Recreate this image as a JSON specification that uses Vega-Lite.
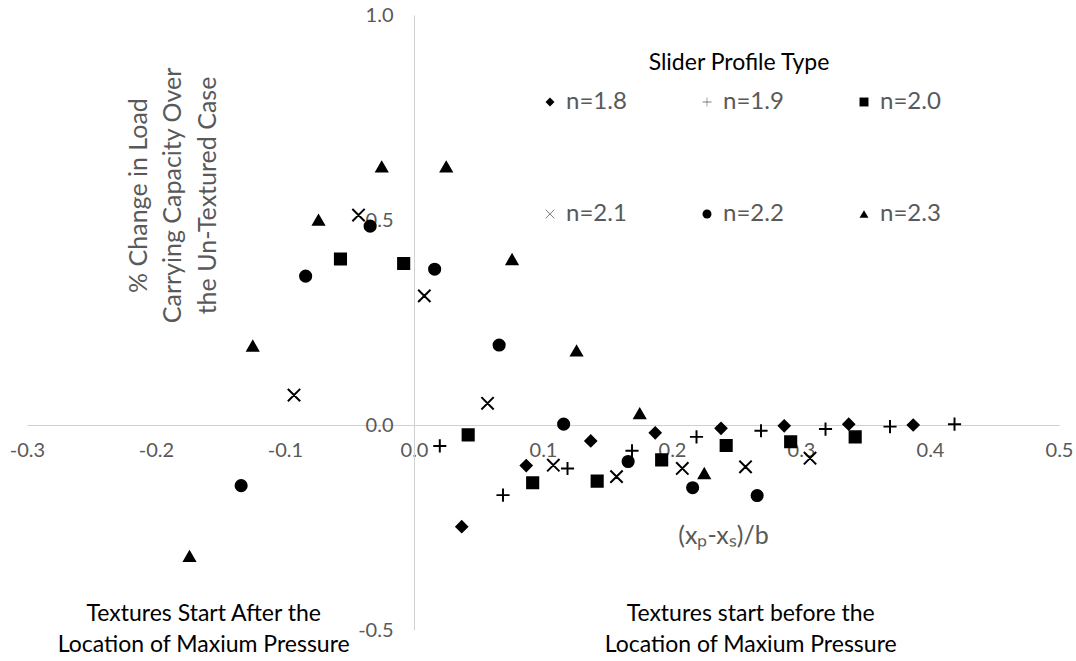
{
  "$schema": "https://vega.github.io/schema/vega-lite/v6.json",
  "width": 1032,
  "height": 615,
  "autosize": {"type": "none"},
  "padding": {"left": 27, "top": 15, "right": 17, "bottom": 31},
  "background": "white",
  "config": {
    "view": {"stroke": null},
    "font": "Lato"
  },
  "datasets": {
    "points": [
      {"series": "n=1.8", "x": 0.037, "y": -0.248},
      {"series": "n=1.8", "x": 0.087, "y": -0.099},
      {"series": "n=1.8", "x": 0.137, "y": -0.039},
      {"series": "n=1.8", "x": 0.187, "y": -0.019},
      {"series": "n=1.8", "x": 0.238, "y": -0.008},
      {"series": "n=1.8", "x": 0.287, "y": -0.002},
      {"series": "n=1.8", "x": 0.337, "y": 0.002},
      {"series": "n=1.8", "x": 0.387, "y": 0.0},
      {"series": "n=1.9", "x": 0.020, "y": -0.051},
      {"series": "n=1.9", "x": 0.069, "y": -0.171},
      {"series": "n=1.9", "x": 0.119, "y": -0.106},
      {"series": "n=1.9", "x": 0.169, "y": -0.063},
      {"series": "n=1.9", "x": 0.219, "y": -0.029},
      {"series": "n=1.9", "x": 0.269, "y": -0.014},
      {"series": "n=1.9", "x": 0.319, "y": -0.010},
      {"series": "n=1.9", "x": 0.369, "y": -0.004},
      {"series": "n=1.9", "x": 0.419, "y": 0.002},
      {"series": "n=2.0", "x": -0.057, "y": 0.405},
      {"series": "n=2.0", "x": -0.008, "y": 0.394},
      {"series": "n=2.0", "x": 0.042, "y": -0.024},
      {"series": "n=2.0", "x": 0.092, "y": -0.141},
      {"series": "n=2.0", "x": 0.142, "y": -0.137},
      {"series": "n=2.0", "x": 0.192, "y": -0.085},
      {"series": "n=2.0", "x": 0.242, "y": -0.050},
      {"series": "n=2.0", "x": 0.292, "y": -0.041},
      {"series": "n=2.0", "x": 0.342, "y": -0.029},
      {"series": "n=2.1", "x": -0.093, "y": 0.073},
      {"series": "n=2.1", "x": -0.043, "y": 0.512},
      {"series": "n=2.1", "x": 0.008, "y": 0.315},
      {"series": "n=2.1", "x": 0.057, "y": 0.053},
      {"series": "n=2.1", "x": 0.108, "y": -0.098},
      {"series": "n=2.1", "x": 0.157, "y": -0.126},
      {"series": "n=2.1", "x": 0.208, "y": -0.106},
      {"series": "n=2.1", "x": 0.257, "y": -0.102},
      {"series": "n=2.1", "x": 0.307, "y": -0.081},
      {"series": "n=2.2", "x": -0.134, "y": -0.148},
      {"series": "n=2.2", "x": -0.084, "y": 0.363},
      {"series": "n=2.2", "x": -0.034, "y": 0.485},
      {"series": "n=2.2", "x": 0.016, "y": 0.380},
      {"series": "n=2.2", "x": 0.066, "y": 0.195},
      {"series": "n=2.2", "x": 0.116, "y": 0.002},
      {"series": "n=2.2", "x": 0.166, "y": -0.089},
      {"series": "n=2.2", "x": 0.216, "y": -0.153},
      {"series": "n=2.2", "x": 0.266, "y": -0.172},
      {"series": "n=2.3", "x": -0.174, "y": -0.320},
      {"series": "n=2.3", "x": -0.125, "y": 0.193},
      {"series": "n=2.3", "x": -0.074, "y": 0.500},
      {"series": "n=2.3", "x": -0.025, "y": 0.630},
      {"series": "n=2.3", "x": 0.025, "y": 0.630},
      {"series": "n=2.3", "x": 0.076, "y": 0.404},
      {"series": "n=2.3", "x": 0.126, "y": 0.181},
      {"series": "n=2.3", "x": 0.175, "y": 0.028},
      {"series": "n=2.3", "x": 0.225, "y": -0.118}
    ],
    "notes": [
      {"x": -0.163, "y": -0.461, "label": ["Textures Start After the", "Location of Maxium Pressure"]},
      {"x": 0.261, "y": -0.461, "label": ["Textures start before the", "Location of Maxium Pressure"]}
    ]
  },
  "layer": [
    {
      "data": {"name": "points"},
      "mark": {"type": "point", "filled": true, "fill": "black", "stroke": "black", "strokeWidth": 1.5, "size": 135, "opacity": 1},
      "encoding": {
        "x": {
          "field": "x", "type": "quantitative",
          "scale": {"domain": [-0.3, 0.5], "nice": false, "zero": false},
          "axis": {
            "title": "(xₚ-xₛ)/b",
            "offset": -205,
            "values": [-0.3, -0.2, -0.1, 0, 0.1, 0.2, 0.3, 0.4, 0.5],
            "format": ".1f",
            "labelExpr": "replace(datum.label, '−', '-')",
            "domainColor": "#d0d0d0",
            "domainWidth": 1,
            "ticks": false,
            "grid": false,
            "labelColor": "#595959",
            "labelFontSize": 20,
            "labelPadding": 15,
            "labelFlush": false,
            "labelOverlap": false,
            "titleX": 696,
            "titleY": 110,
            "titleBaseline": "middle",
            "titleFontSize": 25,
            "titleFontWeight": "normal",
            "titleColor": "#595959"
          }
        },
        "y": {
          "field": "y", "type": "quantitative",
          "scale": {"domain": [-0.5, 1.0], "nice": false, "zero": false},
          "axis": {
            "title": ["% Change in Load", "Carrying Capacity Over", "the Un-Textured Case"],
            "offset": -387,
            "values": [-0.5, 0, 0.5, 1.0],
            "format": ".1f",
            "labelExpr": "replace(datum.label, '−', '-')",
            "domainColor": "#d0d0d0",
            "domainWidth": 1,
            "ticks": false,
            "grid": false,
            "labelColor": "#595959",
            "labelFontSize": 20,
            "labelPadding": 21,
            "labelFlush": false,
            "labelOverlap": false,
            "titleX": -276,
            "titleY": 180,
            "titleAngle": 270,
            "titleBaseline": "middle",
            "titleAlign": "center",
            "titleFontSize": 25,
            "titleLineHeight": 34.5,
            "titleFontWeight": "normal",
            "titleColor": "#595959"
          }
        },
        "shape": {
          "field": "series", "type": "nominal",
          "scale": {
            "domain": ["n=1.8", "n=1.9", "n=2.0", "n=2.1", "n=2.2", "n=2.3"],
            "range": [
              "diamond",
              "M-1,-0.04L-0.04,-0.04L-0.04,-1L0.04,-1L0.04,-0.04L1,-0.04L1,0.04L0.04,0.04L0.04,1L-0.04,1L-0.04,0.04L-1,0.04Z",
              "square",
              "M-1,-0.94L0.94,1L1,0.94L-0.94,-1ZM-1,0.94L-0.94,1L1,-0.94L0.94,-1Z",
              "circle",
              "triangle-up"
            ]
          },
          "legend": {
            "title": "Slider Profile Type",
            "orient": "none",
            "legendX": 511,
            "legendY": 37,
            "columns": 3,
            "direction": "horizontal",
            "columnPadding": 68,
            "rowPadding": 88,
            "padding": 0,
            "titleAnchor": "middle",
            "titleFontSize": 23,
            "titleFontWeight": "normal",
            "titleColor": "black",
            "titlePadding": 15,
            "titleLimit": 600,
            "labelFontSize": 24,
            "labelColor": "#595959",
            "labelOffset": 4,
            "labelLimit": 300,
            "symbolSize": 80,
            "symbolFillColor": "black",
            "symbolStrokeColor": "black",
            "symbolStrokeWidth": 1,
            "symbolOpacity": 1
          }
        }
      }
    },
    {
      "data": {"name": "notes"},
      "mark": {"type": "text", "fontSize": 23, "color": "black", "lineHeight": 31, "baseline": "middle", "align": "center"},
      "encoding": {
        "x": {"field": "x", "type": "quantitative"},
        "y": {"field": "y", "type": "quantitative"},
        "text": {"field": "label"}
      }
    }
  ]
}
